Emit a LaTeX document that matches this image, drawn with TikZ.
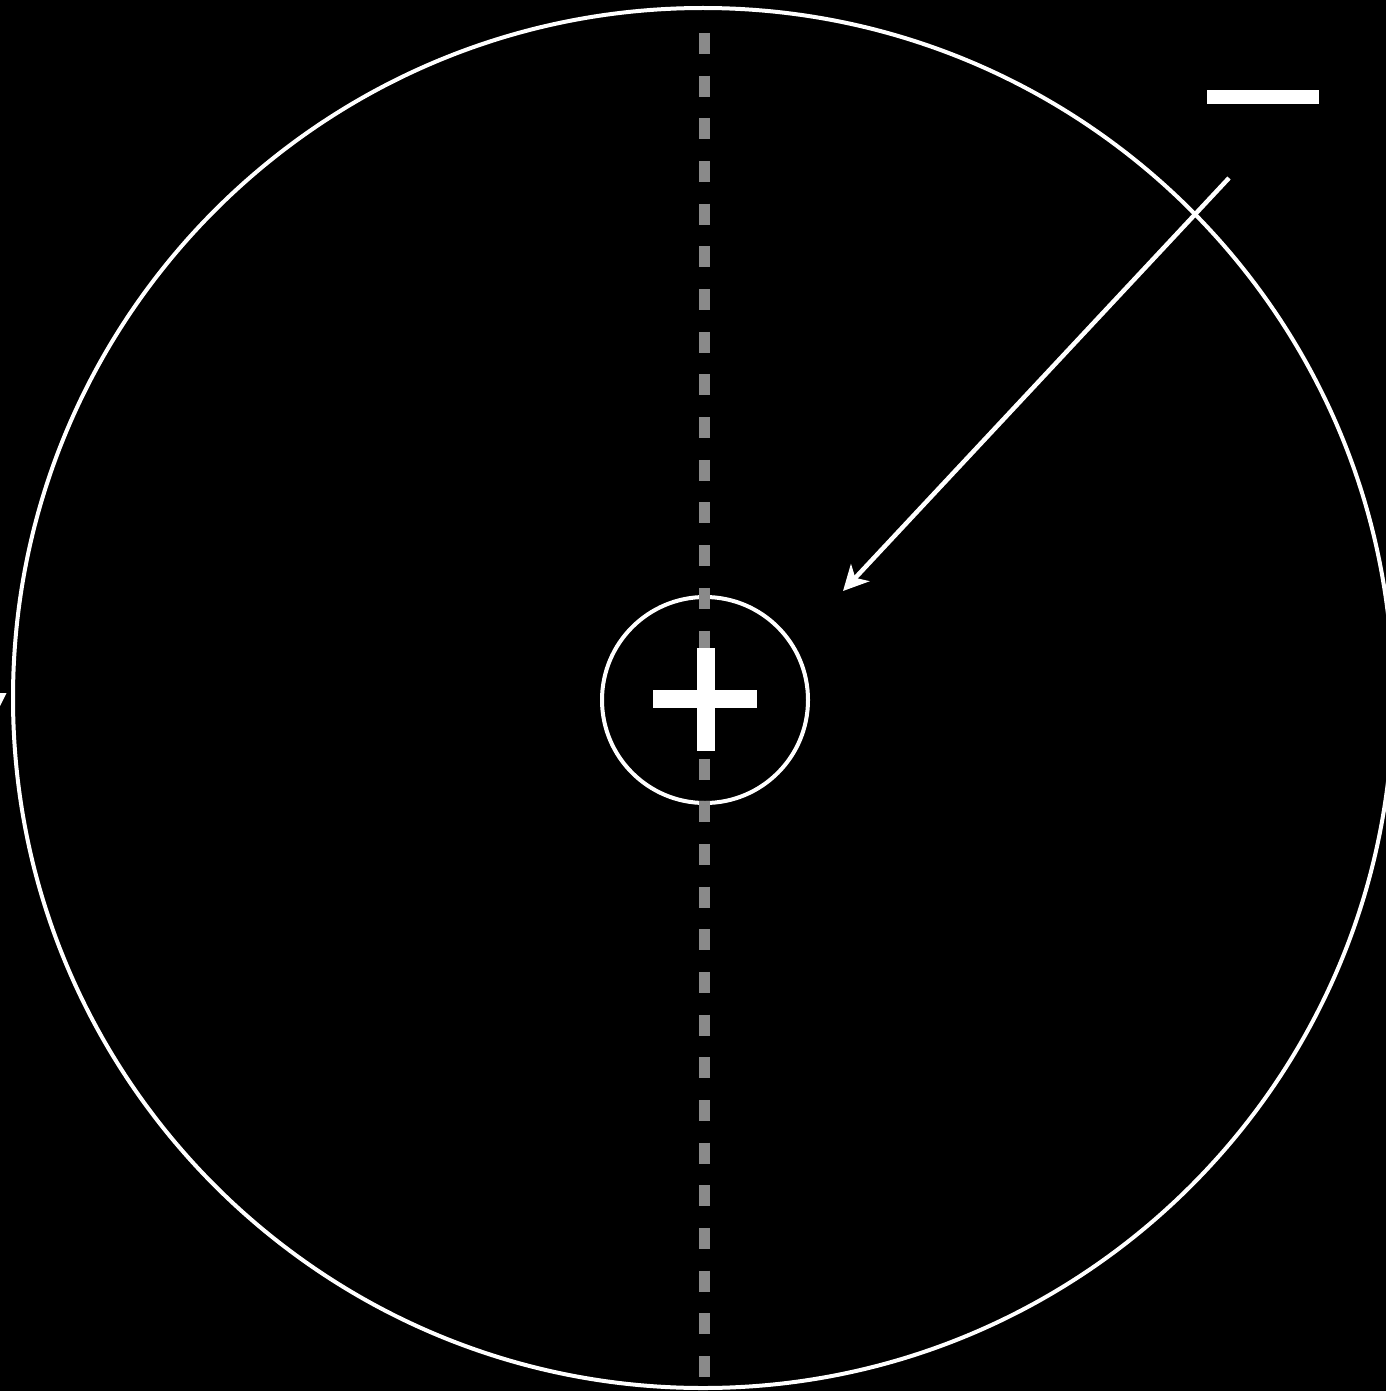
\documentclass[tikz,border=0pt]{standalone}
\usetikzlibrary{arrows.meta}
\definecolor{dashgray}{HTML}{8A8A8A}
\begin{document}
\begin{tikzpicture}[x=1pt,y=-1pt,
  ring/.style={draw=white,line width=4pt,circle,inner sep=0pt},
  axisline/.style={draw=dashgray,line width=11pt,dash pattern=on 21pt off 21.68pt},
  pointer/.style={draw=white,line width=4.5pt,-{Stealth[length=25pt,width=25pt,inset=7pt]}},
  bar/.style={fill=white}]
\fill[black] (0,0) rectangle (1386,1391);
\useasboundingbox (0,0) rectangle (1386,1391);
% outer ring
\node[ring,minimum size=1380pt] (outer) at (703,698) {};
% axis
\coordinate (axtop) at (704,33);
\coordinate (axbot) at (704,1377);
% inner ring
\node[ring,minimum size=206pt] (inner) at (705,700) {};
\draw[axisline] (axtop) -- (axbot);
% plus sign
\fill[bar] (697,648) rectangle (715,751);
\fill[bar] (653,690) rectangle (757,708);
% minus sign
\fill[bar] (1207,90) rectangle (1319,104);
% arrow
\coordinate (astart) at (1229,178);
\coordinate (aend) at (843,591);
\draw[pointer] (astart) -- (aend);
% clipped fragment at left edge
\fill[white] (0,693) -- (6.5,693) -- (0,706) -- cycle;
\end{tikzpicture}
\end{document}
